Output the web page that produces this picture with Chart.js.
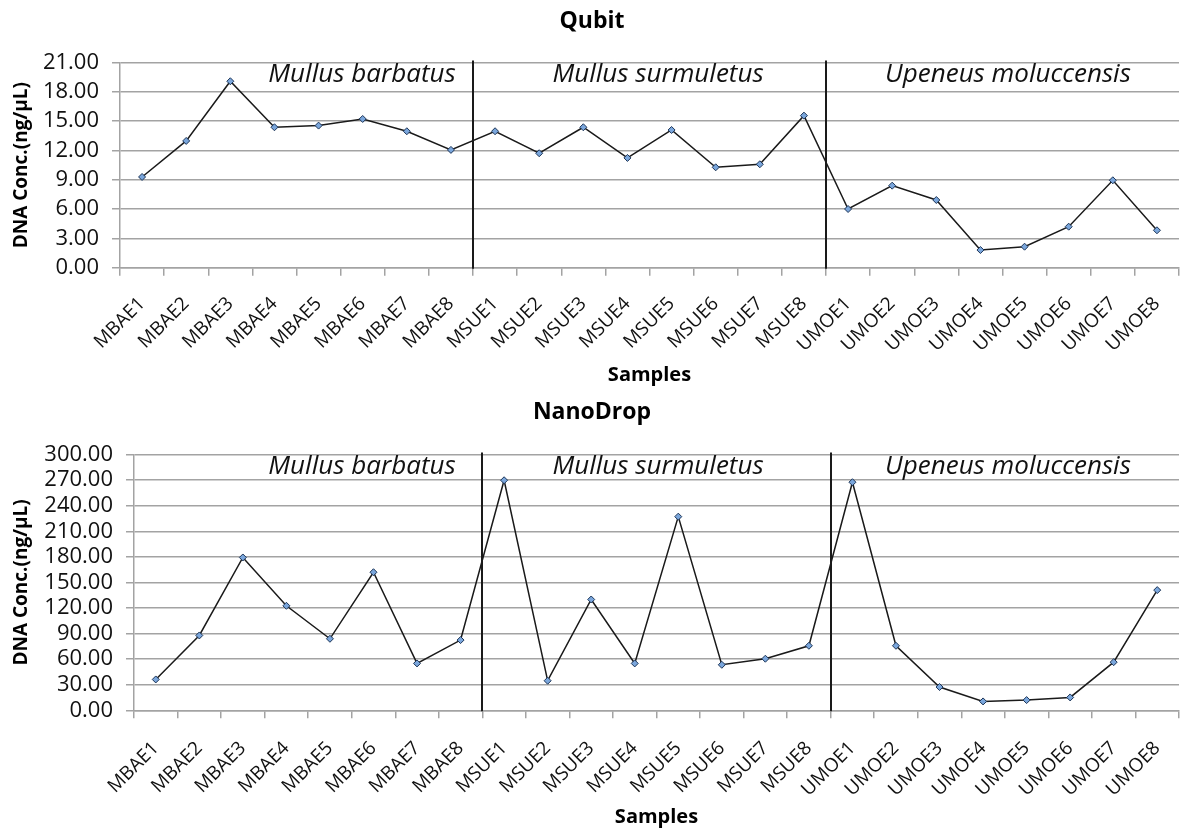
<!DOCTYPE html>
<html>
<head>
<meta charset="utf-8">
<script src="https://cdn.jsdelivr.net/npm/chart.js@4.4.1/dist/chart.umd.min.js"></script>
<style>
  html, body { margin: 0; padding: 0; background: #fff; overflow: hidden; }
  canvas { position: absolute; left: 0; }
  #qubit { top: 0; }
  #nanodrop { top: 392px; }
</style>
</head>
<body>
<canvas id="qubit" width="1184" height="392"></canvas>
<canvas id="nanodrop" width="1184" height="436"></canvas>
<script>
const samples = [
    'MBAE1', 'MBAE2', 'MBAE3', 'MBAE4', 'MBAE5', 'MBAE6', 'MBAE7', 'MBAE8',
    'MSUE1', 'MSUE2', 'MSUE3', 'MSUE4', 'MSUE5', 'MSUE6', 'MSUE7', 'MSUE8',
    'UMOE1', 'UMOE2', 'UMOE3', 'UMOE4', 'UMOE5', 'UMOE6', 'UMOE7', 'UMOE8'
];
const species = ['Mullus barbatus', 'Mullus surmuletus', 'Upeneus moluccensis'];

const qubitValues = [
    9.29, 12.98, 19.09, 14.38, 14.55, 15.23, 13.97, 12.06,
    13.97, 11.72, 14.38, 11.24, 14.10, 10.28, 10.59, 15.57,
    6.01, 8.40, 6.93, 1.81, 2.15, 4.20, 8.95, 3.83
];
const nanoDropValues = [
    36.2, 87.8, 179.3, 122.6, 83.9, 162.0, 55.0, 82.4,
    269.9, 34.7, 130.0, 55.0, 227.2, 53.4, 60.5, 75.7,
    267.6, 75.7, 27.3, 10.4, 12.0, 15.1, 56.5, 141.0
];

const qubitAxis = { max: 21, step: 3 };
const nanoDropAxis = { max: 300, step: 30 };

// section borders sit between the 8th and 9th, 16th and 17th samples
const sectionBorders = [7.5, 15.5];

const FONT = '"Open Sans", sans-serif';
const GRID = '#a3a3a3';

const sectionsPlugin = {
    id: 'sections',
    afterDatasetsDraw(chart, args, opts) {
        const { ctx, chartArea, scales: { x } } = chart;
        ctx.save();
        ctx.strokeStyle = '#1a1a1a';
        ctx.lineWidth = 2;
        sectionBorders.forEach(b => {
            const px = Math.round(x.getPixelForValue(b));
            ctx.beginPath();
            ctx.moveTo(px, chartArea.top - 2);
            ctx.lineTo(px, chartArea.bottom + 1);
            ctx.stroke();
        });
        ctx.font = 'italic 26px ' + FONT;
        ctx.fillStyle = '#111';
        ctx.textAlign = 'center';
        ctx.textBaseline = 'middle';
        species.forEach((name, i) => {
            ctx.fillText(name, opts.labelX[i], chartArea.top + 12);
        });
        ctx.restore();
    }
};

function makeChart(id, title, values, axis, sizes) {
    const ctx = document.getElementById(id).getContext('2d');
    return new Chart(ctx, {
        type: 'line',
        data: {
            labels: samples,
            datasets: [{
                data: values,
                borderColor: '#1a1a1a',
                borderWidth: 1.5,
                tension: 0,
                pointStyle: 'rectRot',
                pointRadius: 3.5,
                pointBackgroundColor: '#7aa6dc',
                pointBorderColor: '#1d3557',
                pointBorderWidth: 1
            }]
        },
        options: {
            responsive: false,
            animation: false,
            devicePixelRatio: 1,
            layout: { padding: 0 },
            plugins: {
                legend: { display: false },
                tooltip: { enabled: false },
                title: {
                    display: true,
                    text: title,
                    color: '#000',
                    font: { family: FONT, size: 23, weight: 'bold', lineHeight: 1.2 },
                    padding: sizes.titlePad
                },
                sections: { labelX: [362, 658, 1008] }
            },
            scales: {
                x: {
                    type: 'category',
                    offset: true,
                    grid: {
                        offset: true,
                        drawOnChartArea: false,
                        tickLength: 8,
                        color: GRID,
                        lineWidth: 1.5
                    },
                    border: { color: GRID, width: 1.5 },
                    ticks: {
                        autoSkip: false,
                        minRotation: 45,
                        maxRotation: 45,
                        padding: sizes.xTickPad,
                        color: '#111',
                        font: { family: FONT, size: 19 }
                    },
                    title: {
                        display: true,
                        text: 'Samples',
                        color: '#000',
                        font: { family: FONT, size: 20, weight: 'bold', lineHeight: 1 },
                        padding: { top: 4, bottom: sizes.xTitleBottom }
                    },
                    afterFit(scale) {
                        scale.height = sizes.xHeight;
                        scale.paddingLeft = 0;
                        scale.paddingRight = 0;
                    }
                },
                y: {
                    min: 0,
                    max: axis.max,
                    grid: { color: GRID, lineWidth: 1.5, tickLength: 8 },
                    border: { color: GRID, width: 1.5 },
                    ticks: {
                        stepSize: axis.step,
                        autoSkip: false,
                        padding: 13,
                        color: '#111',
                        font: { family: FONT, size: 22 },
                        callback: v => v.toFixed(2)
                    },
                    title: {
                        display: true,
                        text: 'DNA Conc.(ng/μL)',
                        color: '#000',
                        font: { family: FONT, size: 19, weight: 'bold', lineHeight: 1.2 },
                        padding: { top: 10, bottom: 0 }
                    },
                    afterFit(scale) { scale.width = sizes.yWidth; }
                }
            }
        },
        plugins: [sectionsPlugin]
    });
}

makeChart('qubit', 'Qubit', qubitValues, qubitAxis, {
    titlePad: { top: 8, bottom: 27 },
    xHeight: 124.3,
    xTickPad: 17,
    xTitleBottom: 6.5,
    yWidth: 120
});

makeChart('nanodrop', 'NanoDrop', nanoDropValues, nanoDropAxis, {
    titlePad: { top: 7, bottom: 28 },
    xHeight: 117.7,
    xTickPad: 19,
    xTitleBottom: 0.5,
    yWidth: 134
});
</script>
</body>
</html>
